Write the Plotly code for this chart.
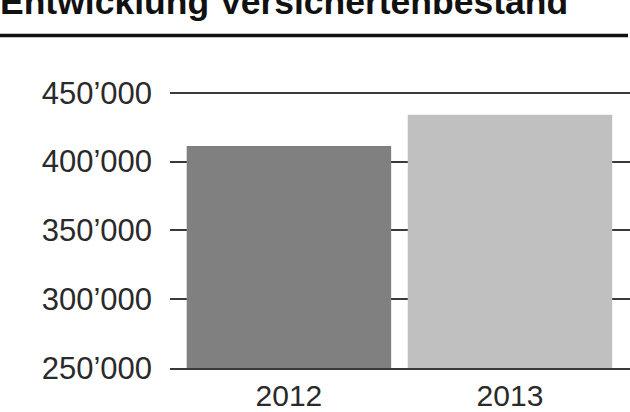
import plotly.graph_objects as go

title = "Entwicklung Versichertenbestand"
years = ["2012", "2013"]
values = [411300, 434000]
bar_colors = ["#808080", "#c0c0c0"]
tick_vals = [250000, 300000, 350000, 400000, 450000]
tick_text = ["250’000", "300’000", "350’000", "400’000", "450’000"]

W, H = 630, 412
L, R, T, B = 170, 0, 79, 40
pw, ph = W - L - R, H - T - B

def px_x(x):
    return (x - L) / pw

def px_y(y):
    return (H - B - y) / ph

fig = go.Figure()
fig.add_trace(go.Bar(
    x=years, y=values, marker=dict(color=bar_colors, line=dict(width=0)),
    width=0.925, hoverinfo="skip",
))

fig.update_layout(
    width=W, height=H,
    margin=dict(l=L, r=R, t=T, b=B, pad=0),
    paper_bgcolor="white", plot_bgcolor="white",
    showlegend=False,
    font=dict(family="Liberation Sans, Arial, sans-serif", color="#2a2a2a", size=30),
    xaxis=dict(
        type="category", range=[-0.538, 1.543],
        showgrid=False, zeroline=False,
        showline=True, linecolor="#3a3a3a", linewidth=1.5,
        ticks="", tickfont=dict(size=30, color="#2a2a2a"),
        fixedrange=True,
    ),
    yaxis=dict(
        range=[250000, 460000],
        tickvals=tick_vals, ticktext=tick_text,
        showgrid=True, gridcolor="#3a3a3a", gridwidth=1.5,
        zeroline=False, showline=False, ticks="",
        ticklabelstandoff=17,
        tickfont=dict(size=31, color="#2a2a2a"),
        fixedrange=True,
    ),
    shapes=[dict(
        type="line", xref="paper", yref="paper",
        x0=px_x(0), x1=px_x(628), y0=px_y(35), y1=px_y(35),
        line=dict(color="#111111", width=3.5),
    )],
    annotations=[dict(
        text="<b>" + title + "</b>", xref="paper", yref="paper",
        x=px_x(-2), y=px_y(1), xanchor="left", yanchor="middle",
        showarrow=False, font=dict(size=35.5, color="#111111",
                                   family="Liberation Sans, Arial, sans-serif"),
    )],
)

fig.write_html(
    "out.html",
    config={"displayModeBar": False},
    post_script="document.body.style.margin='0';document.body.style.overflow='hidden';",
)
